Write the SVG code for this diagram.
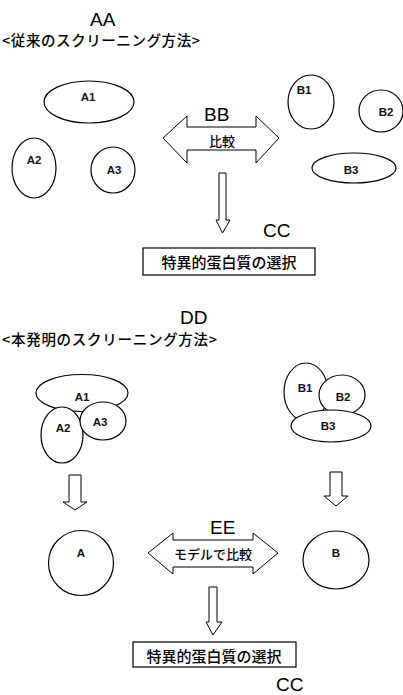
<svg xmlns="http://www.w3.org/2000/svg" width="403" height="695" viewBox="0 0 403 695">
<style>
  .shape { fill: #fff; stroke: #000; stroke-width: 1.2; }
  .arrow { fill: #fff; stroke: #000; stroke-width: 1; stroke-linejoin: miter; }
  .head { font-family: "Liberation Sans", Arial, sans-serif; font-size: 19px; fill: #000; }
  .title { font-family: "Noto Sans CJK JP", "Liberation Sans", sans-serif; font-size: 14.5px; font-weight: 500; fill: #000; }
  .lbl { font-family: "Liberation Sans", Arial, sans-serif; font-size: 11.5px; font-weight: bold; fill: #111; text-anchor: middle; dominant-baseline: central; }
  .jp { font-family: "Noto Sans CJK JP", "Liberation Sans", sans-serif; font-weight: 500; fill: #000; text-anchor: middle; dominant-baseline: central; }
</style>
<rect width="403" height="695" fill="#fff"/>

<!-- Conventional screening method -->
<text class="head" x="90" y="26">AA</text>
<text class="title" x="2" y="46" textLength="198" lengthAdjust="spacing">&lt;従来のスクリーニング方法&gt;</text>

<g id="a1-top"><ellipse class="shape" cx="89" cy="102" rx="45" ry="21"/><text class="lbl" x="88" y="97">A1</text></g>
<g id="a2-top"><ellipse class="shape" cx="34" cy="168" rx="22" ry="30"/><text class="lbl" x="34" y="160">A2</text></g>
<g id="a3-top"><ellipse class="shape" cx="113" cy="170" rx="22" ry="23"/><text class="lbl" x="114" y="170">A3</text></g>
<g id="b1-top"><ellipse class="shape" cx="311" cy="102" rx="23" ry="27"/><text class="lbl" x="304" y="90">B1</text></g>
<g id="b2-top"><ellipse class="shape" cx="381" cy="111" rx="22" ry="21"/><text class="lbl" x="386" y="112">B2</text></g>
<g id="b3-top"><ellipse class="shape" cx="354" cy="168" rx="42" ry="15"/><text class="lbl" x="351" y="170">B3</text></g>

<text class="head" x="204" y="121">BB</text>
<text class="head" x="263" y="237">CC</text>

<g id="select-top"><rect class="shape" x="143" y="248" width="172" height="27"/><text class="jp" x="229" y="261" font-size="15">特異的蛋白質の選択</text></g>

<!-- Proposed screening method -->
<text class="head" x="180" y="324">DD</text>
<text class="title" x="2" y="345" textLength="215" lengthAdjust="spacing">&lt;本発明のスクリーニング方法&gt;</text>

<g id="a1-bottom"><ellipse class="shape" cx="82" cy="393" rx="46" ry="18.5"/><text class="lbl" x="82" y="397">A1</text></g>
<g id="a2-bottom"><ellipse class="shape" cx="62" cy="435" rx="21" ry="28"/><text class="lbl" x="63" y="428">A2</text></g>
<g id="a3-bottom"><ellipse class="shape" cx="103" cy="421" rx="23" ry="19"/><text class="lbl" x="100" y="422">A3</text></g>
<g id="b1-bottom"><ellipse class="shape" cx="306" cy="392" rx="22" ry="29"/><text class="lbl" x="305" y="388">B1</text></g>
<g id="b2-bottom"><ellipse class="shape" cx="342" cy="395" rx="23" ry="20"/><text class="lbl" x="343" y="397">B2</text></g>
<g id="b3-bottom"><ellipse class="shape" cx="331" cy="426" rx="40" ry="16"/><text class="lbl" x="328" y="426">B3</text></g>

<g id="model-a"><circle class="shape" cx="81" cy="563" r="32.5"/><text class="lbl" x="81" y="553">A</text></g>
<g id="model-b"><ellipse class="shape" cx="336" cy="560" rx="33" ry="29"/><text class="lbl" x="336" y="553">B</text></g>

<text class="head" x="210" y="534">EE</text>

<g id="select-bottom"><rect class="shape" x="133" y="642" width="163" height="25"/><text class="jp" x="214" y="655" font-size="15">特異的蛋白質の選択</text></g>
<text class="head" x="276" y="691">CC</text>

<!-- Block arrows -->
<g id="connectors">
  <path class="arrow" d="M163,138 L187,116 L187,127 L256,127 L256,116 L279,138 L256,163 L256,150 L187,150 L187,163 Z"/>
  <text class="jp" x="222" y="140" font-size="13">比較</text>
  <path class="arrow" d="M219,173 L226,173 L226,220 L230,220 L222.5,233 L216,220 L219,220 Z"/>

  <path class="arrow" d="M69,475 L81,475 L81,502 L87,502 L75,510 L63,502 L69,502 Z"/>
  <path class="arrow" d="M330,472 L342,472 L342,496 L348,496 L336,506 L324,496 L330,496 Z"/>

  <path class="arrow" d="M148,553 L173,533 L173,540 L253,540 L253,533 L278,553 L253,574 L253,567 L173,567 L173,574 Z"/>
  <text class="jp" x="213" y="553" font-size="13">モデルで比較</text>
  <path class="arrow" d="M209,587 L217,587 L217,622 L222,622 L213,635 L206,622 L209,622 Z"/>
</g>
</svg>
